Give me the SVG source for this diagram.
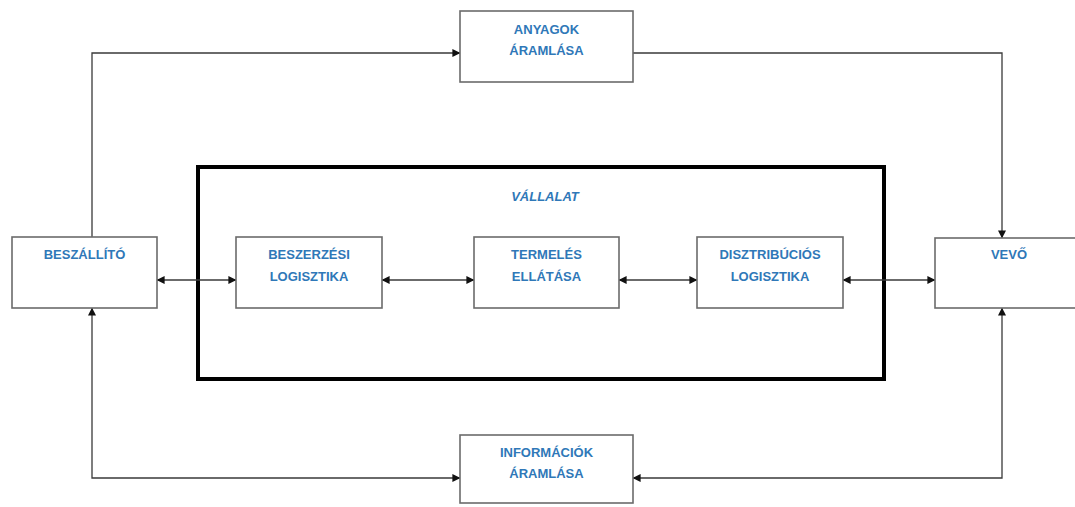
<svg xmlns="http://www.w3.org/2000/svg" width="1075" height="507" viewBox="0 0 1075 507">
  <style>
    .box { fill: #ffffff; stroke: #6b6b6b; stroke-width: 1.6; }
    .frame { fill: none; stroke: #000000; stroke-width: 4; }
    .lbl { font-family: "Liberation Sans", Arial, sans-serif; font-weight: bold; font-size: 13px; fill: #2f78b8; text-anchor: middle; }
    .title { font-style: italic; }
    .wire { fill: none; stroke: #3a3a3a; stroke-width: 1.3; }
  </style>
  <defs>
    <marker id="head" viewBox="0 0 10 10" refX="9.5" refY="5" markerWidth="8" markerHeight="8" markerUnits="userSpaceOnUse" orient="auto-start-reverse">
      <path d="M0,0 L10,5 L0,10 Z" fill="#111111"/>
    </marker>
  </defs>

  <rect x="0" y="0" width="1075" height="507" fill="#ffffff"/>

  <!-- company frame -->
  <g id="vallalat">
    <rect class="frame" x="198" y="167" width="686" height="212"/>
    <text class="lbl title" x="545" y="201">VÁLLALAT</text>
  </g>

  <!-- connectors -->
  <g id="connectors">
    <!-- material flow: supplier -> materials -> customer -->
    <path class="wire" d="M92,237 V53 H460" marker-end="url(#head)"/>
    <path class="wire" d="M633,53 H1002 V238" marker-end="url(#head)"/>
    <!-- information flow -->
    <path class="wire" d="M460,478 H92 V308" marker-start="url(#head)" marker-end="url(#head)"/>
    <path class="wire" d="M633,478 H1002 V308" marker-start="url(#head)" marker-end="url(#head)"/>
    <!-- chain through the company -->
    <path class="wire" d="M157,280 H236" marker-start="url(#head)" marker-end="url(#head)"/>
    <path class="wire" d="M382,280 H474" marker-start="url(#head)" marker-end="url(#head)"/>
    <path class="wire" d="M619,280 H697" marker-start="url(#head)" marker-end="url(#head)"/>
    <path class="wire" d="M843,280 H935" marker-start="url(#head)" marker-end="url(#head)"/>
  </g>

  <g id="anyagok">
    <rect class="box" x="460" y="11" width="173" height="71"/>
    <text class="lbl" x="546.5" y="34">ANYAGOK</text>
    <text class="lbl" x="546.5" y="55">ÁRAMLÁSA</text>
  </g>

  <g id="informaciok">
    <rect class="box" x="460" y="435" width="173" height="68"/>
    <text class="lbl" x="546.5" y="457">INFORMÁCIÓK</text>
    <text class="lbl" x="546.5" y="478">ÁRAMLÁSA</text>
  </g>

  <g id="beszallito">
    <rect class="box" x="12" y="237" width="145" height="71"/>
    <text class="lbl" x="84.5" y="259">BESZÁLLÍTÓ</text>
  </g>

  <g id="beszerzesi">
    <rect class="box" x="236" y="237" width="146" height="71"/>
    <text class="lbl" x="309" y="259">BESZERZÉSI</text>
    <text class="lbl" x="309" y="281">LOGISZTIKA</text>
  </g>

  <g id="termeles">
    <rect class="box" x="474" y="237" width="145" height="71"/>
    <text class="lbl" x="546.5" y="259">TERMELÉS</text>
    <text class="lbl" x="546.5" y="281">ELLÁTÁSA</text>
  </g>

  <g id="disztribucios">
    <rect class="box" x="697" y="237" width="146" height="71"/>
    <text class="lbl" x="770" y="259">DISZTRIBÚCIÓS</text>
    <text class="lbl" x="770" y="281">LOGISZTIKA</text>
  </g>

  <g id="vevo">
    <rect class="box" x="935" y="238" width="150" height="70"/>
    <text class="lbl" x="1009" y="259">VEVŐ</text>
  </g>
</svg>
